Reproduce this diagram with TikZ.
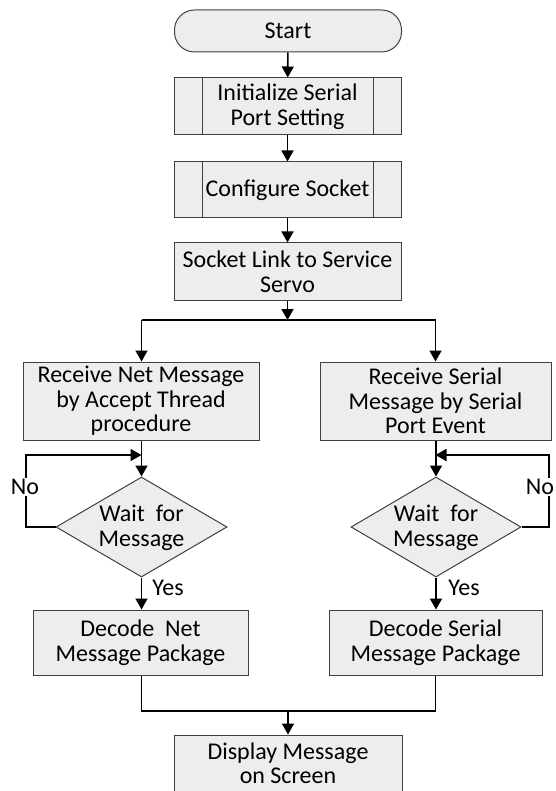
\documentclass[tikz,border=0pt]{standalone}
\usepackage{fontspec}
\setmainfont{Carlito}
\usetikzlibrary{shapes.geometric,arrows.meta}
\definecolor{boxfill}{HTML}{EDEDED}
\definecolor{boxdraw}{HTML}{404040}
\begin{document}
\begin{tikzpicture}[x=1pt,y=-1pt,
  every node/.style={font=\fontsize{24}{24.5}\selectfont, align=center, inner sep=0pt},
  box/.style={draw=boxdraw, fill=boxfill, line width=1pt, rectangle},
  term/.style={box, rounded corners=20pt},
  dec/.style={draw=boxdraw, fill=boxfill, line width=1pt, diamond, aspect=1.7},
  conn/.style={line width=1.6pt, black},
  arr/.style={conn, -{Triangle[width=12pt,length=11pt]}},
  lbl/.style={fill=white, inner sep=1pt}]
\useasboundingbox (0,0) rectangle (555,791);
\fill[white] (0,0) rectangle (555,791);
% nodes
\node[term, minimum width=227pt, minimum height=42pt] (start) at (288,31) {Start};
\node[box, minimum width=227pt, minimum height=57pt] (init) at (287.5,106.5) {Initialize Serial\\Port Setting};
\draw[boxdraw, line width=1pt] ([xshift=29pt]init.north west) -- ([xshift=29pt]init.south west)
  ([xshift=-28pt]init.north east) -- ([xshift=-28pt]init.south east);
\node[box, minimum width=227pt, minimum height=56pt] (conf) at (287.5,190) {Configure Socket};
\draw[boxdraw, line width=1pt] ([xshift=29pt]conf.north west) -- ([xshift=29pt]conf.south west)
  ([xshift=-28pt]conf.north east) -- ([xshift=-28pt]conf.south east);
\node[box, minimum width=227pt, minimum height=57pt] (link) at (287.5,271.5) {Socket Link to Service\\Servo};
\node[box, minimum width=236pt, minimum height=78pt] (recnet) at (141,401) {Receive Net Message\\by Accept Thread\\procedure};
\node[box, minimum width=231pt, minimum height=78pt] (recser) at (435.5,401) {Receive Serial\\Message by Serial\\Port Event};
\node[dec, minimum width=171pt, minimum height=100pt] (wnet) at (141.5,527) {};
\node[dec, minimum width=170pt, minimum height=100pt] (wser) at (436,527) {};
\node (wnett) at (141.5,528) {Wait\ \ for\\Message};
\node (wsert) at (436,528) {Wait\ \ for\\Message};
\node[box, minimum width=215pt, minimum height=65pt] (decnet) at (140.5,642.5) {Decode\ \ Net\\Message Package};
\node[box, minimum width=213pt, minimum height=65pt] (decser) at (435.5,642.5) {Decode Serial\\Message Package};
\node[box, minimum width=228pt, minimum height=64pt] (disp) at (288,767) {};
\node (dispt) at (288,763) {Display Message\\on Screen};
% coordinates
\coordinate (split) at (287.5,320);
\coordinate (splitL) at (141.5,320);
\coordinate (splitR) at (435.5,320);
\coordinate (loopL) at (141.5,455);
\coordinate (loopR) at (435.5,455);
\coordinate (farL) at (26,455);
\coordinate (farR) at (549,455);
\coordinate (joinL) at (141.5,711);
\coordinate (joinR) at (435.5,711);
\coordinate (join) at (288,711);
% connectors
\draw[arr] (start) -- (init);
\draw[arr] (init) -- (conf);
\draw[arr] (conf) -- (link);
\draw[arr] (link) -- (split);
\draw[conn] (splitL) -- (splitR);
\draw[arr] (splitL) -- (recnet.north -| splitL);
\draw[arr] (splitR) -- (recser.north -| splitR);
\draw[arr] (recnet.south -| wnet) -- (wnet.north);
\draw[arr] (recser.south -| wser) -- (wser.north);
\draw[arr] (wnet.west) -| (farL) -- (loopL);
\draw[arr] (wser.east) -| (farR) -- (loopR);
\draw[arr] (wnet.south) -- (decnet.north -| wnet);
\draw[arr] (wser.south) -- (decser.north -| wser);
\draw[conn] (decnet.south -| joinL) -- (joinL) -- (joinR) -- (decser.south -| joinR);
\draw[arr] (join) -- (disp.north);
% labels
\node[lbl] (noL) at (25,487) {No};
\node[lbl] (noR) at (540,487) {No};
\node (yesL) at (168,588) {Yes};
\node (yesR) at (464,588) {Yes};
\end{tikzpicture}
\end{document}
